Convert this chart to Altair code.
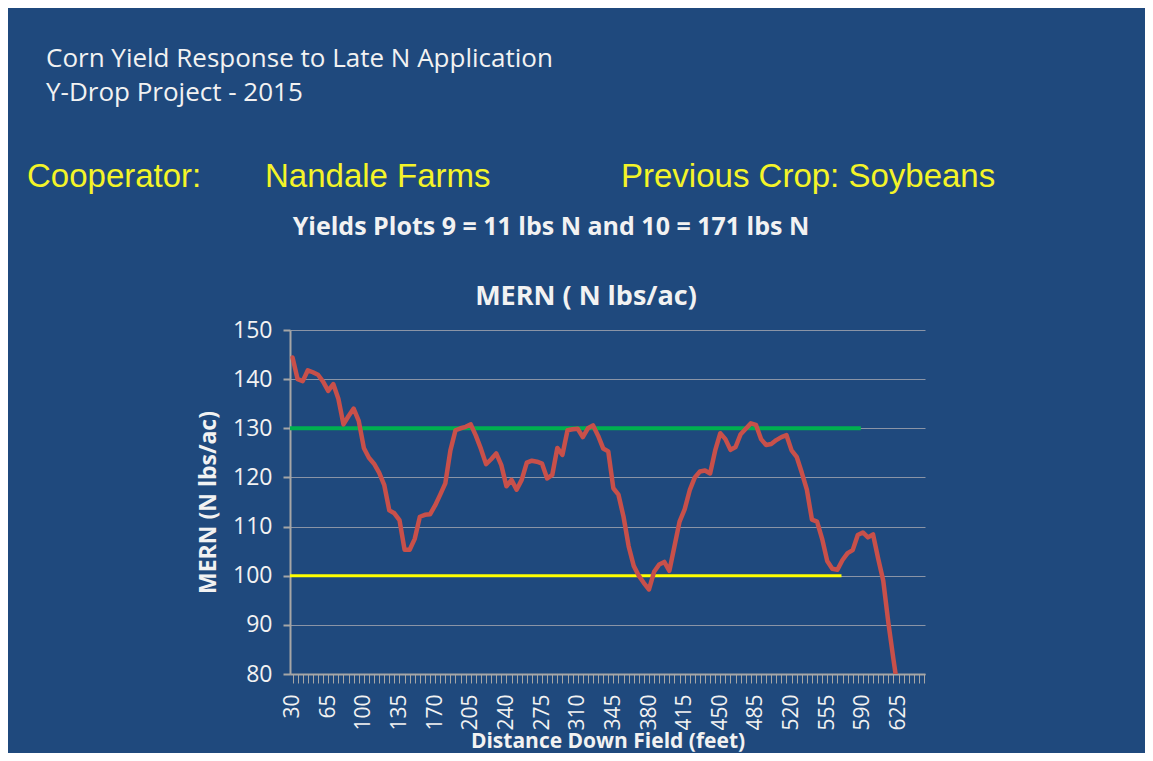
import altair as alt
import pandas as pd

# ---------------- data ----------------
distance_ft = list(range(30, 630, 5))
mern = [
    144.4, 140.0, 139.6, 141.8, 141.4, 140.9, 139.5, 137.6, 139.0, 136.0,
    130.8, 132.5, 134.0, 131.5, 126.0, 124.0, 122.8, 121.0, 118.5, 113.3,
    112.7, 111.3, 105.3, 105.3, 107.5, 112.0, 112.4, 112.5, 114.3, 116.5,
    118.8, 125.5, 129.6, 130.0, 130.3, 130.8, 128.5, 125.8, 122.7, 123.7,
    124.9, 122.5, 118.2, 119.5, 117.5, 119.5, 123.0, 123.4, 123.2, 122.8,
    119.8, 120.5, 126.0, 124.6, 129.6, 129.8, 129.9, 128.2, 130.0, 130.6,
    128.5, 125.9, 125.3, 117.8, 116.5, 112.0, 106.0, 102.0, 100.0, 98.5,
    97.2, 100.8, 102.3, 102.8, 101.0, 106.0, 111.0, 113.5, 117.4, 120.0,
    121.2, 121.4, 120.8, 125.5, 129.0, 127.8, 125.6, 126.2, 128.8, 129.9,
    131.0, 130.7, 127.8, 126.6, 126.8, 127.6, 128.2, 128.6, 125.5, 124.2,
    121.0, 117.5, 111.4, 111.0, 107.5, 103.0, 101.4, 101.2, 103.2, 104.6,
    105.2, 108.3, 108.8, 107.8, 108.4, 103.5, 99.0, 90.5, 83.0, 76.0,
]

green_x = [27.5, 588]
green_y = [130, 130]
yellow_x = [27.5, 569]
yellow_y = [100, 100]

x_ticks = list(range(30, 655, 5))
y_ticks = [80, 90, 100, 110, 120, 130, 140, 150]

title_lines = ["Corn Yield Response to Late N Application", "Y-Drop Project - 2015"]
info_texts = ["Cooperator:", "Nandale Farms", "Previous Crop: Soybeans"]
subtitle = "Yields Plots 9 = 11 lbs N and 10 = 171 lbs N"
chart_title = "MERN ( N lbs/ac)"

# ---------------- styling ----------------
BG = "#1F497D"
WHITE = "#F2F2F2"
YEL = "#F4F428"
GRID = "#8A94A6"
AXIS = "#A6A6A6"

df = pd.DataFrame({"ft": distance_ft, "mern": mern})
gdf = pd.DataFrame({"ft": green_x, "v": green_y})
ydf = pd.DataFrame({"ft": yellow_x, "v": yellow_y})

xscale = alt.Scale(domain=[27.5, 651], nice=False, zero=False)
yscale = alt.Scale(domain=[80, 150], nice=False, zero=False)

x_axis = alt.Axis(
    values=x_ticks,
    tickCount=500,
    labelExpr="(datum.value - 30) % 35 == 0 ? datum.label : ''",
    labelAngle=270,
    labelOverlap=False,
    labelFlush=False,
    labelBound=False,
    labelFont="Open Sans",
    labelFontSize=21,
    labelColor=WHITE,
    labelPadding=11,
    tickSize=9,
    tickColor=AXIS,
    tickWidth=1,
    domainColor=AXIS,
    domainWidth=2,
    grid=False,
    title="Distance Down Field  (feet)",
    titleFont="Open Sans",
    titleFontWeight="bold",
    titleFontSize=21,
    titleColor=WHITE,
    titleX=317.5,
    titleY=67,
    titleBaseline="middle",
    titleAlign="center",
)

y_axis = alt.Axis(
    values=y_ticks,
    tickCount=20,
    labelFont="Open Sans",
    labelFontSize=23,
    labelColor=WHITE,
    labelPadding=11,
    tickSize=7,
    tickColor=AXIS,
    tickWidth=2,
    domainColor=AXIS,
    domainWidth=2,
    grid=True,
    gridColor=GRID,
    gridWidth=1,
    title="MERN (N lbs/ac)",
    titleFont="Open Sans",
    titleFontWeight="bold",
    titleFontSize=23,
    titleColor=WHITE,
    titleAngle=270,
    titleX=-82,
    titleY=172,
    titleBaseline="middle",
    titleAlign="center",
)

red = alt.Chart(df).mark_line(
    color="#C8504A", strokeWidth=4.5, strokeJoin="round", strokeCap="round", clip=True
).encode(
    x=alt.X("ft:Q", scale=xscale, axis=x_axis),
    y=alt.Y("mern:Q", scale=yscale, axis=y_axis),
)

green = alt.Chart(gdf).mark_line(color="#00B050", strokeWidth=4).encode(
    x=alt.X("ft:Q", scale=xscale), y=alt.Y("v:Q", scale=yscale)
)
yellow = alt.Chart(ydf).mark_line(color="#FFFF00", strokeWidth=3).encode(
    x=alt.X("ft:Q", scale=xscale), y=alt.Y("v:Q", scale=yscale)
)


def label(text, x, y, font, size, color, weight="normal", align="left"):
    return alt.Chart(pd.DataFrame({"t": [text]})).mark_text(
        font=font, fontSize=size, color=color, fontWeight=weight,
        align=align, baseline="alphabetic",
    ).encode(text="t:N", x=alt.value(x), y=alt.value(y))


texts = [
    label(title_lines[0], -244, -263, "Open Sans", 26, WHITE),
    label(title_lines[1], -244, -229, "Open Sans", 26, WHITE),
    label(info_texts[0], -263, -143, "Liberation Sans", 33, YEL),
    label(info_texts[1], -25, -143, "Liberation Sans", 33, YEL),
    label(info_texts[2], 331, -143, "Liberation Sans", 33, YEL),
    label(subtitle, 261, -95, "Open Sans", 25, WHITE, "bold", "center"),
    label(chart_title, 296, -25, "Open Sans", 27, WHITE, "bold", "center"),
]

chart = alt.layer(green, yellow, red, *texts).properties(
    width=635,
    height=344,
    background=BG,
    padding={"left": 282, "top": 322, "right": 220, "bottom": 79},
    autosize=alt.AutoSizeParams(type="none"),
).configure_view(stroke=None)

chart.save("out.html", embed_options={"renderer": "svg", "actions": False})
